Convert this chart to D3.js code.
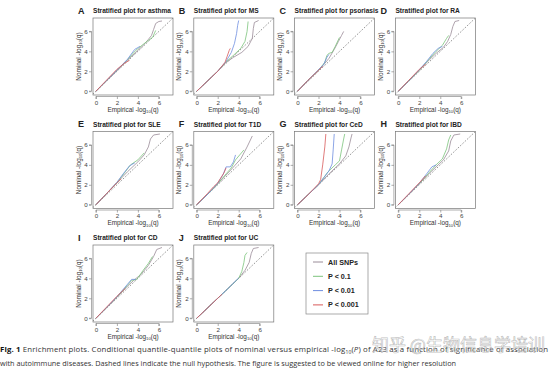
<!DOCTYPE html>
<html>
<head>
<meta charset="utf-8">
<script src="https://cdn.jsdelivr.net/npm/d3@7"></script>
<style>
  body { margin: 0; background: #fff; }
  svg { display: block; }
</style>
</head>
<body>
<svg id="fig" width="554" height="371"></svg>
<script>
// panel letters and traits
const panelLetters = ['A', 'B', 'C', 'D', 'E', 'F', 'G', 'H', 'I', 'J']
const panelTraits = ['asthma', 'MS', 'psoriasis', 'RA', 'SLE', 'T1D', 'CeD', 'IBD', 'CD', 'UC']
const seriesNames = ['All SNPs', 'P < 0.1', 'P < 0.01', 'P < 0.001']
const seriesColors = ['#9a8c98', '#7cc47c', '#6f8ee0', '#d85a5a']
const axisTicks = [0, 2, 4, 6]

// curves: [All SNPs, P<0.1, P<0.01, P<0.001], points are [empirical, nominal]
const asthmaCurves = [
	[[0,0],[1,1.05],[2,2.05],[3,3.1],[4,4.1],[4.6,4.7],[5,5.2],[5.3,5.6],[5.5,6.2],[5.7,6.8],[6,7.0],[6.3,7.05]],
	[[0,0],[1,1.05],[2,2.1],[3,3.15],[3.8,4.1],[4.5,4.7],[5,5.1],[5.4,5.4],[5.7,6.1]],
	[[0,0],[1,1.05],[2,2.1],[3,3.2],[3.7,4.2],[4.2,4.5]],
	[[0,0],[1,1.1],[2,2.2],[2.7,2.8],[3.2,3.1]]
]
const msCurves = [
	[[0,0],[1,1],[2,2],[2.8,2.9],[3.5,3.4],[4.3,3.9],[4.9,4.5],[5.3,5.3],[5.4,6.3],[5.5,6.9],[5.9,7.1]],
	[[0,0],[1,1],[2,2],[2.8,2.95],[3.5,3.6],[4.2,4.3],[4.6,5.0],[4.8,6.0],[4.9,7.0]],
	[[0,0],[1,1],[2,2],[2.8,3.0],[3.3,3.9],[3.6,4.8],[3.8,5.8],[3.9,6.6],[4.0,7.1]],
	[[0,0],[1,1],[2,2],[2.7,2.9],[2.9,3.5],[3.1,4.1],[3.2,4.3]]
]
const psoriasisCurves = [
	[[0,0],[1,1.1],[2,2.1],[2.6,2.8],[3.0,3.3],[3.5,4.2],[3.9,5.0],[4.2,5.6],[4.4,6.0]],
	[[0,0],[1,1.1],[2,2.1],[2.6,2.9],[2.8,3.6],[3.0,3.8],[3.3,3.9],[3.6,4.5],[4.0,5.4]],
	[[0,0],[1,1.1],[2,2.15],[2.5,2.7],[2.8,3.4],[3.0,3.7]],
	[[0,0],[1,1.1],[2,2.1],[2.4,2.5]]
]
const raCurves = [
	[[0,0],[1,1.05],[2,2.1],[3,3.2],[3.6,3.8],[4.3,4.4],[4.7,5.0],[5.0,5.7],[5.2,6.5],[5.4,7.0],[5.8,7.1]],
	[[0,0],[1,1.05],[2,2.1],[3,3.3],[3.6,4.0],[4.2,4.6],[4.6,5.3],[4.8,5.6]],
	[[0,0],[1,1.05],[2,2.15],[2.7,3.0],[3.3,3.8],[3.8,4.3],[4.2,4.5]],
	[[0,0],[1,1.1],[2,2.2],[2.6,2.7]]
]
const sleCurves = [
	[[0,0],[1,1.1],[2,2.2],[3,3.3],[4,4.3],[4.6,5.0],[5.0,5.8],[5.2,6.6],[5.5,7.0],[6.1,7.1]],
	[[0,0],[1,1.1],[2,2.2],[2.8,3.3],[3.3,4.0],[4.0,4.5],[4.6,5.2]],
	[[0,0],[1,1.1],[2,2.25],[2.6,3.1],[3.2,3.9],[3.7,4.2]],
	[[0,0],[1,1.1],[2,2.2],[2.4,2.6]]
]
const t1dCurves = [
	[[0,0],[1,1],[2,2.1],[3,3.2],[3.6,3.9],[4.2,4.6],[4.8,5.8],[5.3,6.9]],
	[[0,0],[1,1],[2,2.1],[2.8,3.1],[3.3,3.7],[3.7,4.5],[4.1,5.0],[4.5,5.5]],
	[[0,0],[1,1],[2,2.15],[2.5,3.0],[2.8,3.8],[3.2,3.8],[3.5,4.3],[3.7,5.0]],
	[[0,0],[1,1.1],[1.6,1.8],[2.0,2.2],[2.6,3.2],[2.8,3.7]]
]
const cedCurves = [
	[[0,0],[1,1],[2,2],[3,3.1],[4,4.1],[4.6,4.9],[4.9,5.8],[5.1,6.7],[5.2,7.1]],
	[[0,0],[1,1],[2,2],[2.9,3.3],[3.6,4.0],[4.0,4.4],[4.2,5.5],[4.4,6.6],[4.5,7.1]],
	[[0,0],[1,1],[2,2],[2.5,2.7],[3.0,3.4],[3.3,4.1],[3.4,5.5],[3.5,7.1]],
	[[0,0],[1,1],[2,2.1],[2.2,2.5],[2.4,4.0],[2.6,5.8],[2.7,7.1]]
]
const ibdCurves = [
	[[0,0],[1,1.05],[2,2.1],[3,3.2],[3.6,3.8],[4.3,4.5],[4.8,5.4],[5.0,6.4],[5.3,7.0],[5.9,7.1]],
	[[0,0],[1,1.05],[2,2.1],[3,3.3],[3.6,4.0],[4.2,4.6],[4.6,5.6],[4.8,6.5],[5.0,7.0]],
	[[0,0],[1,1.05],[2,2.15],[2.7,3.1],[3.2,3.8],[3.6,4.0]],
	[[0,0],[1,1.1],[2,2.2],[2.6,2.9]]
]
const cdCurves = [
	[[0,0],[1,1.05],[2,2.1],[3,3.2],[3.6,3.8],[4.3,4.4],[5.0,5.3],[5.5,6.2],[5.8,6.9],[6.3,7.1]],
	[[0,0],[1,1.05],[2,2.1],[3,3.3],[3.4,3.8],[3.9,3.9],[4.5,4.8],[5.0,5.5],[5.4,6.2]],
	[[0,0],[1,1.05],[2,2.15],[3,3.4],[3.4,3.9],[3.8,3.9]],
	[[0,0],[1,1.1],[2,2.2],[2.8,3.0]]
]
const ucCurves = [
	[[0,0],[1,1],[2,2],[3,3],[4,4],[4.6,4.8],[5.0,5.6],[5.2,6.5],[5.4,7.0],[5.9,7.1]],
	[[0,0],[1,1],[2,2],[3,3],[4,4],[4.3,4.7],[4.5,5.6],[4.6,6.3],[4.8,6.6]],
	[[0,0],[1,1],[2,2],[3,3],[4,4.05]],
	[[0,0],[1,1],[2,2],[2.4,2.4]]
]
const panelCurves = [asthmaCurves, msCurves, psoriasisCurves, raCurves, sleCurves,
	t1dCurves, cedCurves, ibdCurves, cdCurves, ucCurves]

const captionLine1 = 'Enrichment plots. Conditional quantile-quantile plots of nominal versus empirical -log'
const captionLine1b = ' of A23 as a function of significance of association'
const captionLine2 = 'with autoimmune diseases. Dashed lines indicate the null hypothesis. The figure is suggested to be viewed online for higher resolution'

const svg = d3.select('#fig')

const boxW = 80, boxH = 77
const colLeft = [93, 193.8, 294.6, 395.4]
const rowTop = [18, 131.5, 245]
const axisFont = 'Liberation Sans, Arial, sans-serif'

function drawPanel(i) {
	const left = colLeft[i % 4]
	const top = rowTop[Math.floor(i / 4)]
	const g = svg.append('g').attr('transform', `translate(${left},${top})`)

	const x = d3.scaleLinear().domain([-0.28, 7.35]).range([0, boxW])
	const y = d3.scaleLinear().domain([-0.38, 7.35]).range([boxH, 0])

	// clip for lines
	g.append('clipPath').attr('id', 'clip' + i)
		.append('rect').attr('width', boxW).attr('height', boxH)

	// null line
	g.append('line')
		.attr('clip-path', `url(#clip${i})`)
		.attr('x1', x(-0.3)).attr('y1', y(-0.3))
		.attr('x2', x(7.4)).attr('y2', y(7.4))
		.attr('stroke', '#666').attr('stroke-width', 0.7)
		.attr('stroke-dasharray', '1.6,1.6')

	const line = d3.line().x(d => x(d[0])).y(d => y(d[1]))
	const curves = panelCurves[i]
	curves.forEach((c, k) => {
		g.append('path')
			.datum(c)
			.attr('clip-path', `url(#clip${i})`)
			.attr('d', line)
			.attr('fill', 'none')
			.attr('stroke', seriesColors[k])
			.attr('stroke-width', 0.8)
	})

	// box
	g.append('rect').attr('width', boxW).attr('height', boxH)
		.attr('fill', 'none').attr('stroke', '#777').attr('stroke-width', 0.7)

	// x axis
	const xAxis = d3.axisBottom(x).tickValues(axisTicks).tickSize(2.5).tickPadding(1.5)
	const gx = g.append('g').attr('transform', `translate(0,${boxH + 1.5})`).call(xAxis)
	gx.select('.domain').attr('stroke', '#777').attr('stroke-width', 0.6)
		.attr('d', `M${x(0)},2.5V0H${x(6)}V2.5`)
	gx.selectAll('.tick line').attr('stroke', '#777').attr('stroke-width', 0.6)
	gx.selectAll('text').attr('font-size', 6.2).attr('fill', '#444')
		.attr('font-family', axisFont)

	// y axis
	const yAxis = d3.axisLeft(y).tickValues(axisTicks).tickSize(2.5).tickPadding(1.2)
	const gy = g.append('g').attr('transform', 'translate(-1.5,0)').call(yAxis)
	gy.select('.domain').attr('stroke', '#777').attr('stroke-width', 0.6)
		.attr('d', `M-2.5,${y(0)}H0V${y(6)}H-2.5`)
	gy.selectAll('.tick line').attr('stroke', '#777').attr('stroke-width', 0.6)
	gy.selectAll('text').attr('font-size', 6.2).attr('fill', '#444')
		.attr('font-family', axisFont)

	// axis labels
	const xl = g.append('text')
		.attr('x', boxW / 2).attr('y', boxH + 16.5)
		.attr('text-anchor', 'middle')
		.attr('font-size', 6.4).attr('fill', '#333').attr('font-family', axisFont)
	xl.append('tspan').text('Empirical -log')
	xl.append('tspan').attr('font-size', 4.2).attr('dy', 1.5).text('10')
	xl.append('tspan').attr('dy', -1.5).text('(q)')

	const yl = g.append('text')
		.attr('transform', `translate(-12.5,${boxH / 2}) rotate(-90)`)
		.attr('text-anchor', 'middle')
		.attr('font-size', 6.4).attr('fill', '#333').attr('font-family', axisFont)
	yl.append('tspan').text('Nominal -log')
	yl.append('tspan').attr('font-size', 4.2).attr('dy', 1.5).text('10')
	yl.append('tspan').attr('dy', -1.5).text('(q)')

	// panel letter and title
	g.append('text').attr('x', -15).attr('y', -4.5)
		.attr('font-size', 9).attr('font-weight', 'bold').attr('fill', '#222')
		.attr('font-family', axisFont).text(panelLetters[i])
	g.append('text').attr('x', 0).attr('y', -5)
		.attr('font-size', 6.6).attr('font-weight', 'bold').attr('fill', '#222')
		.attr('font-family', axisFont).text('Stratified plot for ' + panelTraits[i])
}

panelCurves.forEach((_, i) => drawPanel(i))

// legend
const legend = svg.append('g').attr('transform', 'translate(306,253)')
legend.append('rect').attr('width', 62).attr('height', 61)
	.attr('fill', '#fff').attr('stroke', '#888').attr('stroke-width', 0.7)
seriesNames.forEach((name, k) => {
	const ly = 9 + k * 14.3
	legend.append('line').attr('x1', 7).attr('x2', 17).attr('y1', ly).attr('y2', ly)
		.attr('stroke', seriesColors[k]).attr('stroke-width', 1)
	legend.append('text').attr('x', 22).attr('y', ly + 2.5)
		.attr('font-size', 7.2).attr('font-weight', 'bold').attr('fill', '#222')
		.attr('font-family', axisFont).text(name)
})

// caption, stretched to the reference's line widths
const capFont = 'Open Sans, Noto Sans, sans-serif'
const cap1 = svg.append('text').attr('x', 0).attr('y', 352)
	.attr('font-size', 7.8).attr('fill', '#333').attr('font-family', capFont)
	.attr('textLength', 548).attr('lengthAdjust', 'spacing')
cap1.append('tspan').attr('font-weight', 'bold').attr('fill', '#111').text('Fig. 1')
cap1.append('tspan').text(' ' + captionLine1)
cap1.append('tspan').attr('font-size', 5).attr('dy', 1.5).text('10')
cap1.append('tspan').attr('dy', -1.5).text('(')
cap1.append('tspan').attr('font-style', 'italic').text('P')
cap1.append('tspan').text(')' + captionLine1b)

svg.append('text').attr('x', 0).attr('y', 366)
	.attr('font-size', 7.6).attr('fill', '#333').attr('font-family', capFont)
	.attr('textLength', 456).attr('lengthAdjust', 'spacingAndGlyphs')
	.text(captionLine2)

// watermark
svg.append('text').attr('x', 372).attr('y', 351)
	.attr('font-size', 17).attr('font-family', 'Noto Sans CJK SC, sans-serif')
	.attr('fill', 'rgba(255,255,255,0.55)').attr('stroke', 'rgba(140,140,140,0.6)')
	.attr('stroke-width', 0.6)
	.text('知乎 @生物信息学培训')
</script>
</body>
</html>
